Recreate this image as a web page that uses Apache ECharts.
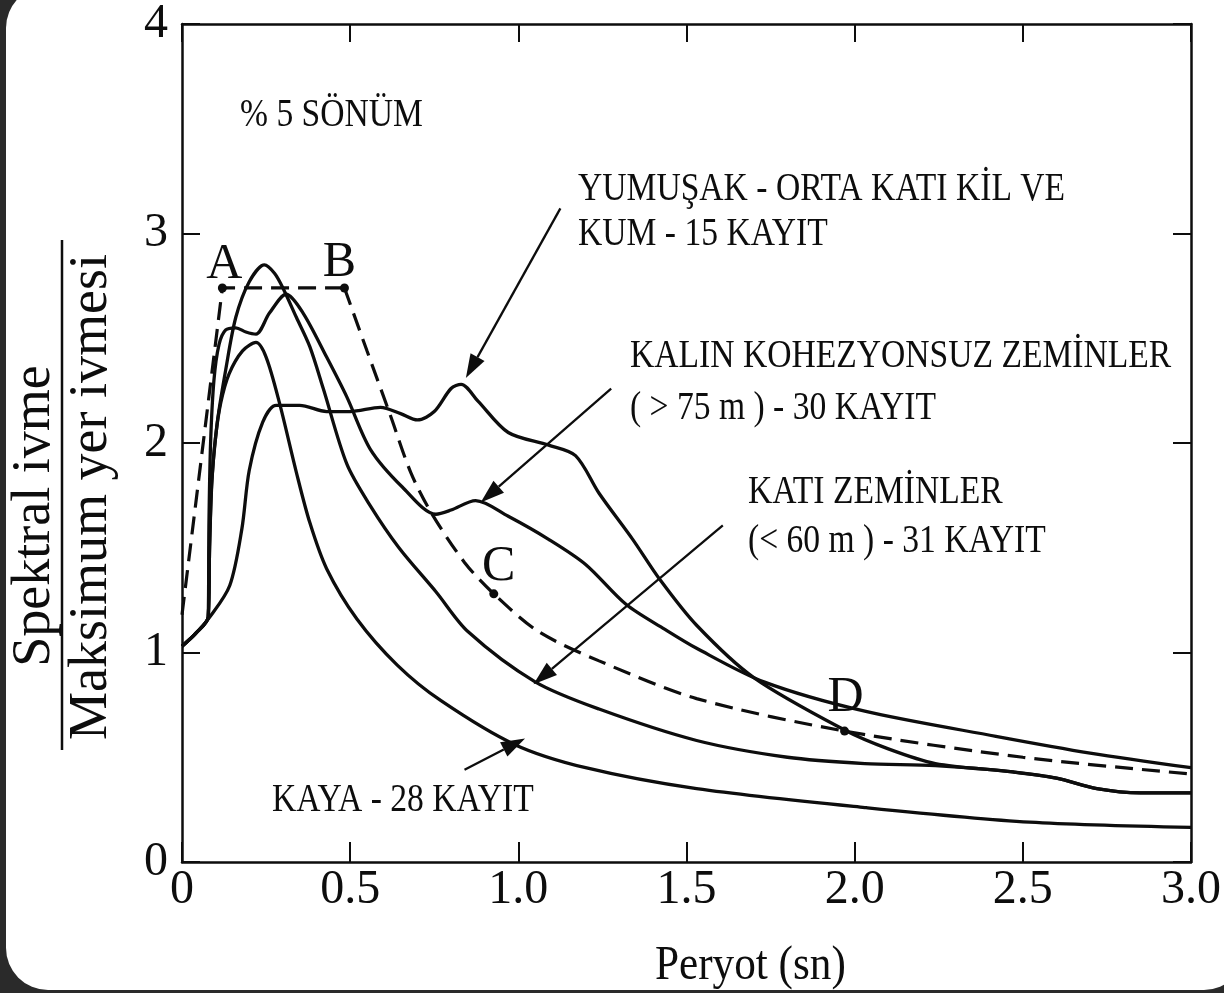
<!DOCTYPE html>
<html>
<head>
<meta charset="utf-8">
<script src="https://cdn.jsdelivr.net/npm/echarts@6/dist/echarts.min.js"></script>
<style>
  html, body { margin: 0; padding: 0; background: #2a2a2a; overflow: hidden; }
  #sheet { position: absolute; left: 6px; top: -14px; width: 1240px; height: 1004px; background: #fff; border-radius: 42px; }
  #chart { position: absolute; left: 0; top: 0; width: 1224px; height: 993px; }
</style>
</head>
<body>
<div id="sheet"></div>
<div id="chart"></div>
<script>
// Normalised spectral acceleration (Sa / PGA) against period T (s), 5 % damping

// Tick labels
const xTickLabels = ['0', '0.5', '1.0', '1.5', '2.0', '2.5', '3.0'];
const yTickLabels = ['0', '1', '2', '3', '4'];

// Rock sites (KAYA) – [period, ratio]
const kaya = [
  [0, 1.03], [0.04, 1.09], [0.078, 1.17], [0.082, 1.5], [0.088, 1.8], [0.1, 2.03],
  [0.115, 2.19], [0.14, 2.33], [0.18, 2.44], [0.22, 2.48], [0.25, 2.41], [0.29, 2.19],
  [0.34, 1.86], [0.38, 1.62], [0.43, 1.40], [0.52, 1.16], [0.64, 0.94], [0.77, 0.77],
  [0.99, 0.56], [1.2, 0.45], [1.53, 0.35], [2.03, 0.26], [2.52, 0.19], [3.0, 0.165]
];

// Stiff soils < 60 m (KATI ZEMİNLER)
const katiZemin = [
  [0, 1.03], [0.04, 1.09], [0.078, 1.17], [0.082, 1.5], [0.09, 1.85], [0.105, 2.1],
  [0.13, 2.35], [0.16, 2.6], [0.2, 2.77], [0.245, 2.85], [0.275, 2.81], [0.3, 2.74],
  [0.34, 2.6], [0.38, 2.46], [0.42, 2.26], [0.49, 1.9], [0.56, 1.7], [0.645, 1.5],
  [0.755, 1.29], [0.85, 1.1], [1.05, 0.86], [1.24, 0.73], [1.53, 0.58], [1.8, 0.5],
  [2.03, 0.47], [2.24, 0.46], [2.47, 0.43], [2.6, 0.4], [2.72, 0.35], [2.85, 0.33], [3.0, 0.33]
];

// Deep cohesionless soils > 75 m (KALIN KOHEZYONSUZ ZEMİNLER)
const kalinKohezyonsuz = [
  [0, 1.03], [0.04, 1.09], [0.078, 1.17], [0.08, 1.6], [0.085, 2.0], [0.095, 2.3],
  [0.11, 2.47], [0.13, 2.54], [0.16, 2.55], [0.19, 2.53], [0.22, 2.52], [0.26, 2.62],
  [0.31, 2.71], [0.36, 2.62], [0.43, 2.41], [0.49, 2.22], [0.56, 1.97], [0.655, 1.79],
  [0.755, 1.66], [0.8, 1.68], [0.873, 1.725], [0.97, 1.65], [1.09, 1.54], [1.2, 1.42],
  [1.32, 1.23], [1.436, 1.11], [1.53, 1.02], [1.73, 0.86], [2.03, 0.72], [2.42, 0.60],
  [2.7, 0.52], [3.0, 0.45]
];

// Soft to medium clay and sand (YUMUŞAK - ORTA KATI KİL VE KUM)
const yumusakKil = [
  [0, 1.03], [0.04, 1.09], [0.083, 1.17], [0.142, 1.32], [0.178, 1.59], [0.2, 1.87],
  [0.24, 2.1], [0.28, 2.18], [0.35, 2.18], [0.43, 2.15], [0.5, 2.15], [0.59, 2.17],
  [0.65, 2.14], [0.70, 2.11], [0.75, 2.15], [0.80, 2.26], [0.83, 2.28], [0.88, 2.2],
  [0.97, 2.05], [1.09, 1.99], [1.17, 1.94], [1.24, 1.76], [1.34, 1.54], [1.42, 1.35],
  [1.53, 1.13], [1.70, 0.88], [1.97, 0.63], [2.1, 0.54], [2.24, 0.47], [2.47, 0.43],
  [2.6, 0.4], [2.72, 0.35], [2.85, 0.33], [3.0, 0.33]
];

// Design envelope (dashed): rising branch and plateau A-B, then decaying branch B-C-D
const envelopePlateau = [[0, 1.18], [0.12, 2.74], [0.483, 2.74]];
const envelopeDecay = [
  [0.483, 2.74], [0.55, 2.44], [0.62, 2.13], [0.68, 1.86], [0.74, 1.67], [0.84, 1.43],
  [0.927, 1.28], [1.06, 1.10], [1.24, 0.96], [1.53, 0.78], [1.97, 0.625], [2.5, 0.50], [3.0, 0.42]
];

// Corner points of the envelope
const cornerNames = ['A', 'B', 'C', 'D'];
const cornerPoints = [[0.12, 2.74], [0.483, 2.74], [0.927, 1.28], [1.97, 0.625]];

// ---------------------------------------------------------------------------
const SERIF = '"Liberation Serif", "Times New Roman", Times, serif';
const INK = '#0d0d0d';

// Letter placement around each corner dot
const cornerLabelOffset = { A: [2, 11], B: [-5, 9], C: [5, 8], D: [1, 1] };

function curve(name, data) {
  return {
    name, type: 'line', data, showSymbol: false, smooth: 0.3,
    lineStyle: { color: INK, width: 3.3 }, silent: true, z: 3
  };
}
function dashed(name, data, smooth) {
  return {
    name, type: 'line', data, showSymbol: false, smooth,
    lineStyle: { color: INK, width: 3.2, type: [18, 9] }, silent: true, z: 3
  };
}

const axisLine = { show: true, onZero: false, lineStyle: { color: INK, width: 2.5 } };

const option = {
  animation: false,
  backgroundColor: 'transparent',
  grid: { left: 182, right: 30, top: 18, bottom: 131, containLabel: false },
  xAxis: [
    {
      type: 'value', min: 0, max: 3, interval: 0.5, position: 'bottom',
      axisLine,
      axisTick: { show: true, inside: true, length: 20, lineStyle: { color: INK, width: 2 } },
      axisLabel: {
        color: INK, fontFamily: SERIF, fontSize: 48, margin: 4,
        formatter: v => xTickLabels[Math.round(v / 0.5)]
      },
      splitLine: { show: false }
    },
    {
      type: 'value', min: 0, max: 3, interval: 0.5, position: 'top',
      axisLine,
      axisTick: { show: true, inside: true, length: 18, lineStyle: { color: INK, width: 2 } },
      axisLabel: { show: false }, splitLine: { show: false }
    }
  ],
  yAxis: [
    {
      type: 'value', min: 0, max: 4, interval: 1, position: 'left',
      axisLine,
      axisTick: { show: true, inside: true, length: 18, lineStyle: { color: INK, width: 2 } },
      axisLabel: {
        color: INK, fontFamily: SERIF, fontSize: 48, margin: 14,
        formatter: v => yTickLabels[Math.round(v)]
      },
      splitLine: { show: false }
    },
    {
      type: 'value', min: 0, max: 4, interval: 1, position: 'right',
      axisLine,
      axisTick: { show: true, inside: true, length: 18, lineStyle: { color: INK, width: 2 } },
      axisLabel: { show: false }, splitLine: { show: false }
    }
  ],
  series: [
    curve('KAYA', kaya),
    curve('KATI ZEMİNLER', katiZemin),
    curve('KALIN KOHEZYONSUZ ZEMİNLER', kalinKohezyonsuz),
    curve('YUMUŞAK - ORTA KATI KİL VE KUM', yumusakKil),
    dashed('Tasarım A-B', envelopePlateau, false),
    dashed('Tasarım B-D', envelopeDecay, 0.3),
    {
      name: 'Köşe noktaları', type: 'scatter', z: 4, silent: true,
      symbol: 'circle', symbolSize: 9,
      itemStyle: { color: INK, opacity: 1 },
      data: cornerPoints.map((p, i) => ({
        name: cornerNames[i], value: p,
        label: { offset: cornerLabelOffset[cornerNames[i]] }
      })),
      label: {
        show: true, position: 'top', distance: 5,
        formatter: p => p.name,
        color: INK, opacity: 1, fontFamily: SERIF, fontSize: 50
      }
    }
  ]
};

const chart = echarts.init(document.getElementById('chart'), null, { renderer: 'canvas' });
chart.setOption(option);

// ---- annotations -----------------------------------------------------------
function note(text, x, y, size, sx) {
  return {
    type: 'text', x, y, scaleX: sx, silent: true, z: 10,
    style: {
      text, fill: INK, font: size + 'px ' + SERIF,
      align: 'left', verticalAlign: 'middle', textAlign: 'left', textVerticalAlign: 'middle'
    }
  };
}

const NOTE_SIZE = 40, NOTE_SX = 0.84;
const notes = [
  ['% 5 SÖNÜM', 240, 115],
  ['YUMUŞAK - ORTA KATI KİL VE', 578, 189],
  ['KUM - 15 KAYIT', 578, 234],
  ['KALIN KOHEZYONSUZ ZEMİNLER', 630, 356],
  ['( > 75 m ) - 30 KAYIT', 630, 408],
  ['KATI ZEMİNLER', 748, 492],
  ['(< 60 m ) - 31 KAYIT', 748, 541],
  ['KAYA - 28 KAYIT', 272, 800]
];

// Leader arrows, in axis units: [from, to]
const leaders = [
  [[1.125, 3.12], [0.844, 2.31]],
  [[1.276, 2.26], [0.888, 1.716]],
  [[1.608, 1.607], [1.045, 0.848]],
  [[0.84, 0.44], [1.02, 0.59]]
];

const toPx = p => chart.convertToPixel({ xAxisIndex: 0, yAxisIndex: 0 }, p);
const graphics = notes.map(n => note(n[0], n[1], n[2], NOTE_SIZE, NOTE_SX));

leaders.forEach(([from, to]) => {
  const a = toPx(from), b = toPx(to);
  const dx = b[0] - a[0], dy = b[1] - a[1];
  const len = Math.hypot(dx, dy), ux = dx / len, uy = dy / len;
  const headLen = 24, headHalf = 8;
  const base = [b[0] - ux * headLen, b[1] - uy * headLen];
  graphics.push({
    type: 'line', silent: true, z: 10,
    shape: { x1: a[0], y1: a[1], x2: base[0], y2: base[1] },
    style: { stroke: INK, lineWidth: 2.3 }
  });
  graphics.push({
    type: 'polygon', silent: true, z: 10,
    shape: { points: [b, [base[0] - uy * headHalf, base[1] + ux * headHalf], [base[0] + uy * headHalf, base[1] - ux * headHalf]] },
    style: { fill: INK }
  });
});

// Vertical axis title: numerator over denominator
graphics.push({
  type: 'text', x: 35, y: 516, rotation: Math.PI / 2, silent: true, z: 10,
  style: { text: 'Spektral ivme', fill: INK, font: '54px ' + SERIF,
    align: 'center', verticalAlign: 'middle', textAlign: 'center', textVerticalAlign: 'middle' }
});
graphics.push({
  type: 'line', silent: true, z: 10,
  shape: { x1: 62, y1: 240, x2: 62, y2: 750 },
  style: { stroke: INK, lineWidth: 2.5 }
});
graphics.push({
  type: 'text', x: 92, y: 497, rotation: Math.PI / 2, silent: true, z: 10,
  style: { text: 'Maksimum yer ivmesi', fill: INK, font: '54px ' + SERIF,
    align: 'center', verticalAlign: 'middle', textAlign: 'center', textVerticalAlign: 'middle' }
});

// Horizontal axis title
graphics.push(note('Peryot (sn)', 655, 966, 48, 0.9));

chart.setOption({ graphic: graphics });
</script>
</body>
</html>
